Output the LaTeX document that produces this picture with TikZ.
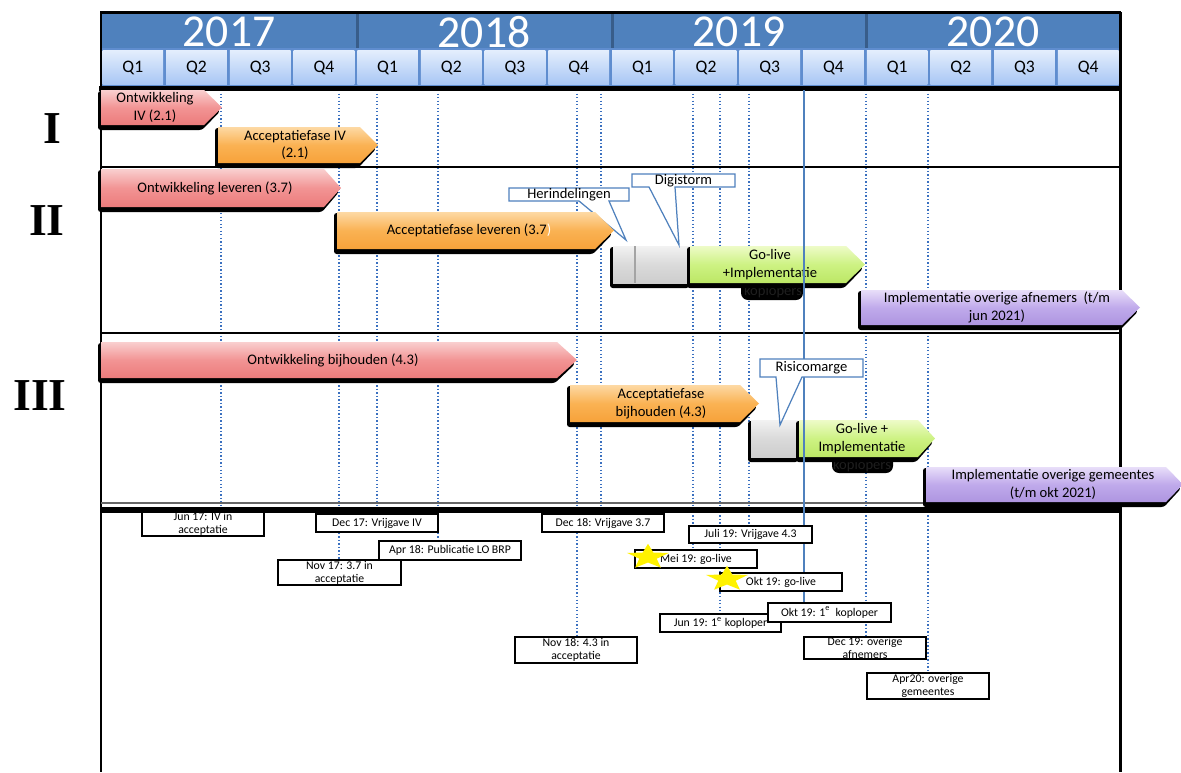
\documentclass[tikz,border=0pt]{standalone}
\usepackage{fontspec}
\setmainfont{Carlito}
\newfontfamily\romfont{Liberation Serif}
\usetikzlibrary{shapes.geometric}
\definecolor{hdrblue}{HTML}{4F81BD}
\definecolor{hdrdark}{HTML}{385D8A}
\definecolor{qtop}{HTML}{E4EEFD}
\definecolor{qbot}{HTML}{A9C7F4}
\definecolor{qedge}{HTML}{5F8DCF}
\definecolor{msblue}{HTML}{3A70C0}
\definecolor{callblue}{HTML}{4F81BD}
\definecolor{redT}{HTML}{F9CFCF}\definecolor{redM}{HTML}{F29494}\definecolor{redB}{HTML}{EC7B7B}
\definecolor{orgT}{HTML}{FDD9A4}\definecolor{orgM}{HTML}{FAB253}\definecolor{orgB}{HTML}{F7A23A}
\definecolor{grnT}{HTML}{EEFBC8}\definecolor{grnM}{HTML}{CDF283}\definecolor{grnB}{HTML}{BCE765}
\definecolor{purT}{HTML}{E8DEF9}\definecolor{purM}{HTML}{C0AAEB}\definecolor{purB}{HTML}{AE95E0}
\definecolor{gryT}{HTML}{F2F2F2}\definecolor{gryM}{HTML}{DADADA}\definecolor{gryB}{HTML}{CDCDCD}
\pgfdeclarelayer{bglayer}
\pgfdeclarelayer{lines}
\pgfdeclarelayer{front}
\pgfsetlayers{bglayer,lines,main,front}
% chevron bar: name, x1, xflat, xtip, y1, y2, colour, text x, text
\newcommand\chev[9]{%
  \fill[black, rounded corners=1.5pt] (#2-3,#5+1) -- (#3-2,#5+1) -- (#4-2,{(#5+#6)/2+4}) -- (#3-2,#6+5) -- (#2-3,#6+5) -- cycle;
  \shade[top color=#7T, bottom color=#7B, middle color=#7M] (#2,#5) -- (#3,#5) -- (#4,{(#5+#6)/2}) -- (#3,#6) -- (#2,#6) -- cycle;
  \node[bartext] (#1) at (#8,{(#5+#6)/2}) {#9};
}
% grey block: name, x1, y1, x2, y2
\newcommand\gblock[5]{%
  \fill[black, rounded corners=1.5pt] (#2-3,#3+1) rectangle (#4-1,#5+5);
  \shade[top color=gryT, bottom color=gryB, middle color=gryM] (#2,#3) rectangle (#4,#5);
  \coordinate (#1) at ({(#2+#4)/2},{(#3+#5)/2});
}
% callout: name, x1, y1, x2, y2, base1, base2, tip, text
\newcommand\callout[9]{%
  \filldraw[fill=white, draw=callblue, line width=0.7pt] (#2,#3) -- (#4,#3) -- (#4,#5) -- (#7,#5) -- (#8) -- (#6,#5) -- (#2,#5) -- cycle;
  \node[calltext] (#1) at ({(#2+#4)/2},{(#3+#5)/2}) {#9};
}
% milestone box: name, x1, y1, x2, y2, text
\newcommand\msbox[6]{%
  \node[msnode, minimum width={(#4-#2)*0.02cm}, minimum height={(#5-#3)*0.02cm}] (#1) at ({(#2+#4)/2},{(#3+#5)/2}) {#6};
}
\begin{document}
\begin{tikzpicture}[x=0.02cm, y=-0.02cm,
  bartext/.style={font=\fontsize{8.3}{10.2}\selectfont, align=center, inner sep=0pt, text=black},
  calltext/.style={font=\fontsize{8.3}{10}\selectfont, inner sep=0pt, text=black},
  msnode/.style={draw=black, line width=1.1pt, fill=white, inner sep=0pt, align=center, font=\fontsize{6.7}{7.5}\selectfont},
  yearlab/.style={font=\fontsize{26}{26}\selectfont, text=white, inner sep=0pt},
  qlab/.style={font=\fontsize{10}{10}\selectfont, text=black, inner sep=0pt},
  romlab/.style={font=\romfont\bfseries\fontsize{26}{26}\selectfont, inner sep=0pt},
  koptext/.style={font=\fontsize{8.3}{8.3}\selectfont, text=black!88, inner sep=0pt},
  msline/.style={msblue, line width=0.6pt, dash pattern=on 0.8pt off 1.2pt},
  frameline/.style={black, line width=1.7pt},
  starnode/.style={star, star points=5, star point ratio=2.4, fill=yellow, draw=none, inner sep=0pt, minimum size=0.88cm, yscale=0.6, transform shape}
]
\useasboundingbox (0,0) rectangle (1181,772);
\begin{pgfonlayer}{bglayer}
  \fill[white] (0,0) rectangle (1181,772);
\end{pgfonlayer}

% ---------- milestone boxes (front layer) ----------
\begin{pgfonlayer}{front}
  \msbox{jun17}{142}{513}{264}{535}{Jun 17: IV in\\acceptatie}
  \msbox{dec17}{316}{514}{438}{532}{Dec 17: Vrijgave IV}
  \msbox{nov17}{278}{560}{401}{585}{Nov 17: 3.7 in\\acceptatie}
  \msbox{apr18}{379}{541}{521}{560}{Apr 18: Publicatie LO BRP}
  \msbox{dec18}{542}{514}{664}{532}{Dec 18: Vrijgave 3.7}
  \msbox{nov18}{515}{637}{637}{663}{Nov 18: 4.3 in\\acceptatie}
  \msbox{jul19}{689}{526}{812}{543}{Juli 19: Vrijgave 4.3}
  \msbox{mei19}{635}{550}{757}{568}{Mei 19: go-live}
  \msbox{okt19g}{720}{573}{842}{591}{Okt 19: go-live}
  \msbox{jun19}{660}{614}{781}{632}{Jun 19: 1\textsuperscript{e} koploper}
  \msbox{okt19k}{768}{603}{891}{622}{Okt 19: 1\textsuperscript{e}\ \ koploper}
  \msbox{dec19}{804}{637}{926}{659}{Dec 19: overige\\afnemers}
  \msbox{apr20}{867}{673}{989}{699}{Apr20: overige\\gemeentes}
  \begin{scope}[shift={(648,557)}]
    \node[starnode] (star1) at (0,0) {};
  \end{scope}
  \begin{scope}[shift={(727,579)}]
    \node[starnode] (star2) at (0,0) {};
  \end{scope}
\end{pgfonlayer}

% ---------- dotted milestone lines (back layer) ----------
\begin{pgfonlayer}{lines}
  \foreach \xx/\tg in {221/jun17, 339/nov17, 377/dec17, 438/apr18, 577/nov18, 601/dec18, 693/mei19, 720/jun19, 749/jul19, 866/dec19, 928/apr20} {
    \coordinate (t\xx) at (\xx,90);
    \draw[msline] (t\xx) -- (t\xx |- \tg.north);
  }
\end{pgfonlayer}

% ---------- header ----------
\fill[hdrblue] (101,13) rectangle (1120,48);
\foreach \xx in {357,612,866} { \fill[hdrdark] (\xx-1.5,13) rectangle (\xx+1.5,48); }
\fill[qedge] (101,48) rectangle (1120,86);
\foreach \i in {0,...,15} {
  \pgfmathsetmacro\xa{101+63.69*\i+1.5}
  \pgfmathsetmacro\xb{101+63.69*(\i+1)-1.5}
  \pgfmathsetmacro\xc{101+63.69*(\i+0.5)}
  \pgfmathtruncatemacro\qn{mod(\i,4)+1}
  \shade[top color=qtop, bottom color=qbot] (\xa,50) rectangle (\xb,84);
  \node[qlab] (q\i) at (\xc,67.5) {Q\qn};
}
\node[yearlab] (y2017) at (229,32) {2017};
\node[yearlab] (y2018) at (484,32) {2018};
\node[yearlab] (y2019) at (739,32) {2019};
\node[yearlab] (y2020) at (993,32) {2020};
\fill[black] (99,85.5) rectangle (1122,90.5);
\draw[frameline] (100,12) -- (1121,12);

% ---------- frame and row separators ----------
\draw[frameline] (101,12) -- (101,772);
\draw[frameline] (1120,12) -- (1120,772);
\draw[black, line width=1.1pt] (101,167) -- (1120,167);
\draw[black, line width=1.1pt] (101,333) -- (1120,333);
\draw[black!60, line width=0.6pt] (101,503) -- (1120,503);
\fill[black] (101,506.5) rectangle (1120,513);

% ---------- roman numerals ----------
\node[romlab] (rI) at (52,129) {I};
\node[romlab] (rII) at (47,221) {II};
\node[romlab] (rIII) at (40,396) {III};

% ---------- row I ----------
\chev{ontIV}{101}{204}{222}{90}{125}{red}{155}{Ontwikkeling\\IV (2.1)}
\chev{accIV}{218}{360}{378}{127}{163}{org}{295}{Acceptatiefase IV\\(2.1)}

% ---------- row II ----------
\callout{herind}{509}{188}{629}{201}{579}{609}{626,240}{Herindelingen}
\chev{ontLev}{101}{324}{341}{169}{207}{red}{215}{Ontwikkeling leveren (3.7)}
\chev{accLev}{337}{595}{614}{212}{249}{org}{469}{Acceptatiefase leveren (3.7\textcolor{white}{)}}
\gblock{grayII}{613}{246}{690}{283}
\fill[gryB!80!black] (633.5,246) rectangle (635.5,283);
\fill[black, rounded corners=4pt] (741,279) rectangle (803,300);
\node[koptext] (kopII) at (773,292) {koplopers};
\chev{goII}{690}{846}{865}{246}{283}{grn}{770}{Go-live\\+Implementatie}
\chev{impAf}{861}{1122}{1140}{290}{325}{pur}{997}{Implementatie overige afnemers\ \ (t/m\\jun 2021)}

% ---------- row III ----------
\chev{ontBij}{101}{557}{577}{342}{378}{red}{333}{Ontwikkeling bijhouden (4.3)}
\chev{accBij}{570}{740}{759}{385}{422}{org}{661}{Acceptatiefase\\bijhouden (4.3)}
\gblock{grayIII}{751}{420}{799}{457}
\fill[black, rounded corners=4pt] (832,453) rectangle (893,473);
\node[koptext] (kopIII) at (862,466) {koplopers};
\chev{goIII}{799}{918}{935}{420}{457}{grn}{862}{Go-live +\\Implementatie}
\chev{impGem}{926}{1166}{1183}{467}{502}{pur}{1053}{Implementatie overige gemeentes\\(t/m okt 2021)}

% ---------- solid Oct 2019 line ----------
\coordinate (t804) at (804,90);
\draw[hdrblue, line width=0.9pt] (t804) -- (t804 |- okt19k.north);

% ---------- callouts ----------
\callout{digi}{632}{174}{735}{187}{649}{675}{679,245}{Digistorm}
\callout{risico}{760}{359}{863}{377}{776}{802}{780,425}{Risicomarge}
\end{tikzpicture}
\end{document}
